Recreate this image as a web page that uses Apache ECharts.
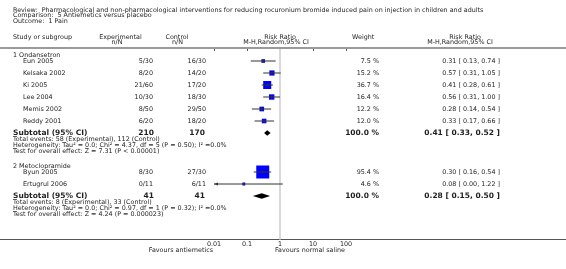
<!DOCTYPE html>
<html>
<head>
<meta charset="utf-8">
<script src="https://cdn.jsdelivr.net/npm/echarts@6.0.0/dist/echarts.min.js"></script>
<style>
  html, body { margin: 0; padding: 0; background: #fff; }
  #main { width: 566px; height: 269px; }
</style>
</head>
<body>
<div id="main"></div>
<script>
// ---- data ----
const titleLines = [
  'Review:  Pharmacological and non-pharmacological interventions for reducing rocuronium bromide induced pain on injection in children and adults',
  'Comparison:  5 Antiemetics versus placebo',
  'Outcome:  1 Pain'
]
const groupNames = ['1 Ondansetron', '2 Metoclopramide']
const studies = ['Eun 2005', 'Kelsaka 2002', 'Ki 2005', 'Lee 2004', 'Memis 2002', 'Reddy 2001', 'Byun 2005', 'Ertugrul 2006']
const studyGroup = [0, 0, 0, 0, 0, 0, 1, 1]
const expNN = ['5/30', '8/20', '21/60', '10/30', '8/50', '6/20', '8/30', '0/11']
const ctrlNN = ['16/30', '14/20', '17/20', '18/30', '29/50', '18/20', '27/30', '6/11']
const weights = [7.5, 15.2, 36.7, 16.4, 12.2, 12.0, 95.4, 4.6]
const rr = [0.31, 0.57, 0.41, 0.56, 0.28, 0.33, 0.30, 0.08]
const rrLo = [0.13, 0.31, 0.28, 0.31, 0.14, 0.17, 0.16, 0.00]
const rrHi = [0.74, 1.05, 0.61, 1.00, 0.54, 0.66, 0.54, 1.22]

const subExpN = [210, 41]
const subCtrlN = [170, 41]
const subWeight = [100.0, 100.0]
const subRR = [0.41, 0.28]
const subLo = [0.33, 0.15]
const subHi = [0.52, 0.50]
const totalEvents = ['Total events: 58 (Experimental), 112 (Control)', 'Total events: 8 (Experimental), 33 (Control)']
const heterogeneity = [
  'Heterogeneity: Tau\u00b2 = 0.0; Chi\u00b2 = 4.37, df = 5 (P = 0.50); I\u00b2 =0.0%',
  'Heterogeneity: Tau\u00b2 = 0.0; Chi\u00b2 = 0.97, df = 1 (P = 0.32); I\u00b2 =0.0%'
]
const overallEffect = ['Test for overall effect: Z = 7.31 (P < 0.00001)', 'Test for overall effect: Z = 4.24 (P = 0.000023)']

const tickValues = [0.01, 0.1, 1, 10, 100]
const tickLabels = ['0.01', '0.1', '1', '10', '100']
const favoursLeft = 'Favours antiemetics'
const favoursRight = 'Favours normal saline'

// ---- row layout (in row units) ----
const rows = []
let u = 1
groupNames.forEach((g, gi) => {
  rows.push({ kind: 'group', u, gi })
  u += 1
  studies.forEach((s, i) => {
    if (studyGroup[i] === gi) { rows.push({ kind: 'study', u, i }); u += 2 }
  })
  rows.push({ kind: 'subtotal', u, gi })
  rows.push({ kind: 'note', u: u + 1, text: totalEvents[gi] })
  rows.push({ kind: 'note', u: u + 2, text: heterogeneity[gi] })
  rows.push({ kind: 'note', u: u + 3, text: overallEffect[gi] })
  u += 5.5
})

const studyData = rows.filter(r => r.kind === 'study').map(r => [rr[r.i], rrLo[r.i], rrHi[r.i], r.u, weights[r.i]])
const subData = rows.filter(r => r.kind === 'subtotal').map(r => [subRR[r.gi], subLo[r.gi], subHi[r.gi], r.u])

const FONT = 'DejaVu Sans'
const TXT = '#1e1e1e'
const X_MIN = 0.01

const chart = echarts.init(document.getElementById('main'), null, { renderer: 'canvas' })

chart.setOption({
  animation: false,
  grid: { left: 214, right: 220, top: 49, height: 190.5 },
  xAxis: {
    type: 'log', logBase: 10, min: 0.01, max: 100, interval: 1,
    axisLine: { show: false },
    axisTick: { show: true, length: 2, lineStyle: { color: '#555', width: 1 } },
    splitLine: { show: false },
    axisLabel: {
      fontSize: 6.4, fontFamily: FONT, color: TXT, margin: 2,
      formatter: v => {
        const k = tickValues.findIndex(t => Math.abs(Math.log10(t) - Math.log10(v)) < 1e-6)
        return k >= 0 ? tickLabels[k] : ''
      }
    }
  },
  yAxis: { type: 'value', min: 0, max: 31.75, inverse: true, show: false },
  series: [
    {
      type: 'line', data: [], z: 1, silent: true,
      markLine: {
        silent: true, symbol: 'none', label: { show: false },
        lineStyle: { color: '#d9d9d9', width: 2, type: 'solid' },
        data: [{ xAxis: 1 }]
      }
    },
    {
      type: 'custom', z: 5, data: studyData,
      renderItem: (params, api) => {
        const est = api.value(0), lo = api.value(1), hi = api.value(2), y = api.value(3), w = api.value(4)
        const clipped = lo < X_MIN
        const pLo = api.coord([clipped ? X_MIN : lo, y])
        const pHi = api.coord([hi, y])
        const pE = api.coord([est, y])
        const s = 13.3 * Math.sqrt(w / 100)
        const children = [
          { type: 'rect', shape: { x: pE[0] - s / 2, y: pE[1] - s / 2, width: s, height: s }, style: { fill: '#0000ff' } },
          { type: 'line', shape: { x1: pLo[0], y1: pLo[1], x2: pHi[0], y2: pHi[1] }, style: { stroke: '#333', lineWidth: 1 } },
          { type: 'line', shape: { x1: pE[0], y1: pE[1] - 1.5, x2: pE[0], y2: pE[1] + 1.5 }, style: { stroke: '#333', lineWidth: 1 } }
        ]
        if (clipped) {
          children.push({ type: 'polygon', shape: { points: [[pLo[0], pLo[1]], [pLo[0] + 4, pLo[1] - 1.5], [pLo[0] + 4, pLo[1] + 1.5]] }, style: { fill: '#333' } })
        }
        return { type: 'group', children }
      }
    },
    {
      type: 'custom', z: 5, data: subData,
      renderItem: (params, api) => {
        const y = api.value(3)
        const pE = api.coord([api.value(0), y])
        const pLo = api.coord([api.value(1), y])
        const pHi = api.coord([api.value(2), y])
        const h = 2.7
        return {
          type: 'polygon',
          shape: { points: [[pLo[0], pLo[1]], [pE[0], pE[1] - h], [pHi[0], pHi[1]], [pE[0], pE[1] + h]] },
          style: { fill: '#000' }
        }
      }
    }
  ]
})

// ---- text table and rules ----
const rowY = v => chart.convertToPixel({ yAxisIndex: 0 }, v)
const txt = (text, x, y, opt = {}) => ({
  type: 'text', silent: true,
  style: {
    text, x, y,
    fontSize: opt.size || 6.4, fontFamily: FONT, fontWeight: opt.bold ? 'bold' : 'normal',
    fill: TXT, align: opt.align || 'left', verticalAlign: 'middle'
  }
})
const graphics = []
titleLines.forEach((t, k) => graphics.push(txt(t, 13, 10.5 + k * 5.2)))
graphics.push(txt('Study or subgroup', 13, 37.5))
graphics.push(txt('Experimental', 120.5, 37.5, { align: 'center' }))
graphics.push(txt('n/N', 117, 42.5, { align: 'center' }))
graphics.push(txt('Control', 177, 37.5, { align: 'center' }))
graphics.push(txt('n/N', 177.5, 42.5, { align: 'center' }))
graphics.push(txt('Risk Ratio', 280, 37.5, { align: 'center' }))
graphics.push(txt('M-H,Random,95% CI', 276, 42.5, { align: 'center' }))
graphics.push(txt('Weight', 352, 37.5))
graphics.push(txt('Risk Ratio', 465, 37.5, { align: 'center' }))
graphics.push(txt('M-H,Random,95% CI', 460, 42.5, { align: 'center' }))
graphics.push({ type: 'line', silent: true, shape: { x1: 0, y1: 48, x2: 566, y2: 48 }, style: { stroke: '#777', lineWidth: 1.5 } })
const axisY = rowY(31.75)
graphics.push({ type: 'line', silent: true, shape: { x1: 0, y1: axisY, x2: 566, y2: axisY }, style: { stroke: '#555', lineWidth: 1 } })

const ciText = (e, l, h) => e.toFixed(2) + ' [ ' + l.toFixed(2) + ', ' + h.toFixed(2) + ' ]'
rows.forEach(r => {
  const y = rowY(r.u)
  if (r.kind === 'group') {
    graphics.push(txt(groupNames[r.gi], 13, y))
  } else if (r.kind === 'study') {
    const i = r.i
    graphics.push(txt(studies[i], 23, y))
    graphics.push(txt(expNN[i], 153, y, { align: 'right' }))
    graphics.push(txt(ctrlNN[i], 206, y, { align: 'right' }))
    graphics.push(txt(weights[i].toFixed(1) + ' %', 379, y, { align: 'right' }))
    graphics.push(txt(ciText(rr[i], rrLo[i], rrHi[i]), 500, y, { align: 'right' }))
  } else if (r.kind === 'subtotal') {
    const g = r.gi
    graphics.push(txt('Subtotal (95% CI)', 13, y, { bold: true, size: 7.5 }))
    graphics.push(txt(String(subExpN[g]), 154, y, { bold: true, size: 7.5, align: 'right' }))
    graphics.push(txt(String(subCtrlN[g]), 205, y, { bold: true, size: 7.5, align: 'right' }))
    graphics.push(txt(subWeight[g].toFixed(1) + ' %', 379, y, { bold: true, size: 7.5, align: 'right' }))
    graphics.push(txt(ciText(subRR[g], subLo[g], subHi[g]), 500, y, { bold: true, size: 7.5, align: 'right' }))
  } else {
    graphics.push(txt(r.text, 13, y))
  }
})
graphics.push(txt(favoursLeft, 213, axisY + 10.5, { align: 'right' }))
graphics.push(txt(favoursRight, 275, axisY + 10.5))

chart.setOption({ graphic: graphics })
</script>
</body>
</html>
